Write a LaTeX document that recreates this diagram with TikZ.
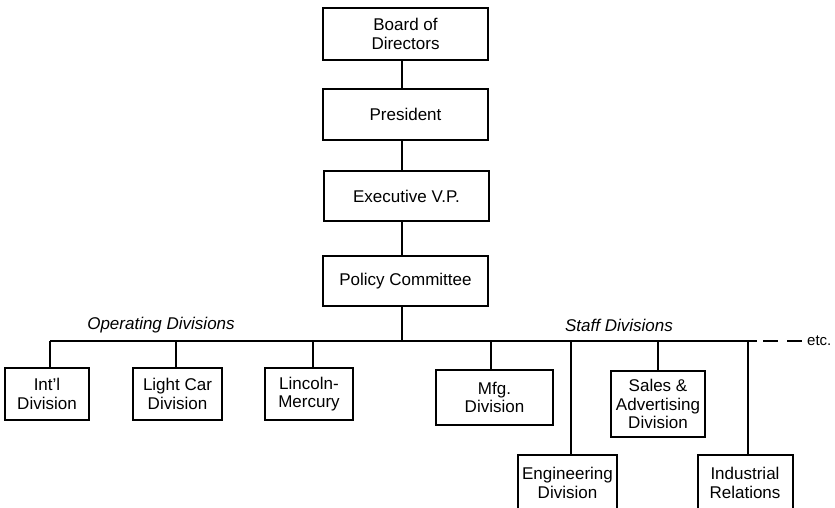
\documentclass[tikz,border=0pt]{standalone}
\usepackage{fontspec}
\setmainfont{Liberation Sans}
\begin{document}
\begin{tikzpicture}[x=1pt,y=-1pt,
  orgbox/.style={draw, line width=2pt, align=center, inner sep=0pt,
    font=\fontsize{17}{18.5}\selectfont},
  conn/.style={line width=2pt},
  grouplabel/.style={font=\fontsize{17}{18}\selectfont\itshape, inner sep=0pt}]
\useasboundingbox (0,0) rectangle (835,507);
% top chain
\node[orgbox, minimum width=165pt, minimum height=52pt] (board) at (405.5,34) {Board of\\Directors};
\node[orgbox, minimum width=165pt, minimum height=51pt] (pres) at (405.5,114.5) {President};
\node[orgbox, minimum width=165pt, minimum height=50pt] (evp) at (406.5,196) {Executive V.P.};
\node[orgbox, minimum width=165pt, minimum height=50pt] (pol) at (405.5,281) {Policy Committee};
\coordinate (spine) at (402,0);
% divisions
\node[orgbox, minimum width=84pt, minimum height=52pt] (intl) at (47,394) {Int'l\\Division};
\node[orgbox, minimum width=89pt, minimum height=52pt] (light) at (177.5,394) {Light Car\\Division};
\node[orgbox, minimum width=88pt, minimum height=52pt] (linc) at (309,394) {Lincoln-\\Mercury};
\node[orgbox, minimum width=117pt, minimum height=55pt] (mfg) at (494.5,397.5) {Mfg.\\Division};
\node[orgbox, minimum width=99pt, minimum height=56pt] (eng) at (567.5,483) {Engineering\\Division};
\node[orgbox, minimum width=94pt, minimum height=66pt] (sales) at (658,404) {Sales \&\\Advertising\\Division};
\node[orgbox, minimum width=95pt, minimum height=56pt] (ind) at (745,483) {Industrial\\Relations};
% bus
\coordinate (busL) at (50,341);
\coordinate (busR) at (757,341);
\coordinate (busS) at (763,341);
\coordinate (busD) at (803,341);
\node[anchor=west, inner sep=0pt, font=\fontsize{15}{16}\selectfont] (etc) at (807,341) {etc.};
\node[grouplabel] (oplab) at (161,325) {Operating Divisions};
\node[grouplabel] (stlab) at (619,325) {Staff Divisions};
% connectors
\draw[conn] (board.south -| spine) -- (pres.north -| spine);
\draw[conn] (pres.south -| spine) -- (evp.north -| spine);
\draw[conn] (evp.south -| spine) -- (pol.north -| spine);
\draw[conn] (pol.south -| spine) -- (spine |- busL);
\draw[conn] (busL) -- (busR);
\draw[conn, dash pattern=on 15pt off 9pt] (busS) -- (busD);
\foreach \n/\dx in {intl/3,light/-1.5,linc/4,mfg/-3.5,eng/3.5,sales/0,ind/3}
  \draw[conn] ([xshift=\dx pt]\n.north) -- ([xshift=\dx pt]\n.north |- busL);
\end{tikzpicture}
\end{document}
